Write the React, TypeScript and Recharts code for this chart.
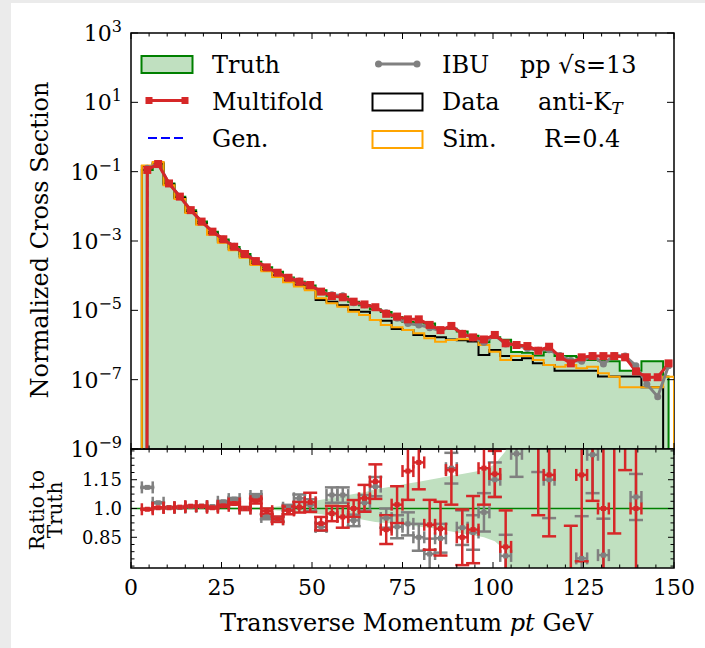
import React from 'react';
import {
  ComposedChart, Line, Area, Scatter, XAxis, YAxis, ErrorBar,
  ReferenceLine, ReferenceArea, Legend,
} from 'recharts';

// ---------------- binning / ticks ----------------
const BIN_WIDTH = 3; // GeV
const N_BINS = 50;
const BIN_EDGES = Array.from({ length: N_BINS + 1 }, (_, i) => i * BIN_WIDTH);
const BIN_CENTERS = Array.from({ length: N_BINS }, (_, i) => i * BIN_WIDTH + BIN_WIDTH / 2);

const X_TICKS = [0, 5, 10, 15, 20, 25, 30, 35, 40, 45, 50, 55, 60, 65, 70, 75, 80, 85, 90, 95, 100,
  105, 110, 115, 120, 125, 130, 135, 140, 145, 150];
const X_LABELED = [0, 25, 50, 75, 100, 125, 150];
const LOG_TICKS = [1e3, 1e1, 1e-1, 1e-3, 1e-5, 1e-7, 1e-9];
const RATIO_TICKS = [0.7, 0.7375, 0.775, 0.8125, 0.85, 0.8875, 0.925, 0.9625, 1.0, 1.0375, 1.075,
  1.1125, 1.15, 1.1875, 1.225, 1.2625, 1.3];
const RATIO_MAJOR = [0.85, 1.0, 1.15];
const RATIO_MAJOR_TEXT = ['0.85', '1.0', '1.15'];

// ---------------- top panel values (log10 of normalized cross section, null = empty bin) ----------------
// Truth (filled histogram, mid steps)
const TRUTH_LOG = [null, -0.95, -0.78, -1.34, -1.72, -2.11, -2.44, -2.73, -2.955, -3.175,
  -3.375, -3.595, -3.755, -3.89, -4.055, -4.177, -4.284, -4.42, -4.58, -4.605,
  -4.75, -4.85, -4.97, -5.05, -5.19, -5.34, -5.35, -5.38, -5.52, -5.53,
  -5.61, -5.73, -5.92, -5.78, -5.85, -6.2, -6.22, -6.3, -6.2, -6.32,
  -6.32, -6.35, -6.43, -6.45, -6.47, -6.74, -6.74, -6.47, -6.47, -6.91];
// Multifold (line with square markers at bin centres)
const MULTIFOLD_LOG = [null, -0.95, -0.78, -1.34, -1.72, -2.11, -2.44, -2.73, -2.95, -3.165,
  -3.375, -3.58, -3.76, -3.915, -4.06, -4.174, -4.27, -4.46, -4.59, -4.625,
  -4.75, -4.83, -4.91, -5.10, -5.18, -5.26, -5.26, -5.42, -5.57, -5.45,
  -5.68, -5.78, -5.84, -5.71, -5.95, -6.00, -6.03, -6.165, -6.05, -6.34,
  -6.53, -6.355, -6.32, -6.32, -6.32, -6.355, -6.76, -6.93, -6.93, -6.53];
// Gen. (blue dashed, lies under Multifold)
const GEN_LOG = [null, -0.95, -0.78, -1.34, -1.72, -2.11, -2.44, -2.73, -2.95, -3.165,
  -3.375, -3.58, -3.76, -3.915, -4.06, -4.174, -4.27, -4.46, -4.59, -4.625,
  -4.75, -4.83, -4.91, -5.10, -5.18, -5.26, -5.26, -5.42, -5.57, -5.45,
  -5.68, -5.78, -5.84, -5.71, -5.95, -6.00, -6.03, -6.165, -6.05, -6.34,
  -6.53, -6.355, -6.32, -6.32, -6.32, -6.355, -6.76, -6.93, -6.93, -6.53];
// IBU (grey line with round markers)
const IBU_LOG = [null, -0.905, -0.767, -1.338, -1.718, -2.106, -2.435, -2.726, -2.94, -3.154,
  -3.375, -3.568, -3.775, -3.915, -4.053, -4.155, -4.276, -4.46, -4.55, -4.58,
  -4.78, -4.84, -4.92, -5.07, -5.23, -5.38, -5.42, -5.50, -5.59, -5.45,
  -5.66, -5.79, -5.93, -5.72, -5.97, -6.0, -6.1, -6.15, -6.14, -6.3,
  -6.45, -6.47, -6.3, -6.55, -6.3, -6.32, -6.6, -7.13, -7.49, -6.6];
// Data (black step histogram over bin edges)
const DATA_LOG = [null, -0.84, -0.74, -1.37, -1.76, -2.16, -2.50, -2.79, -3.02, -3.24,
  -3.45, -3.66, -3.84, -3.99, -4.14, -4.26, -4.37, -4.70, -4.75, -4.85,
  -4.99, -5.04, -5.28, -5.30, -5.54, -5.57, -5.71, -5.74, -5.78, -5.84,
  -5.86, -5.90, -6.29, -6.145, -6.32, -6.43, -6.385, -6.53, -6.58, -6.74,
  -6.74, -6.74, -6.74, -6.91, -6.91, -6.91, -6.91, -7.22, -7.22, null];
// Sim. (orange step histogram over bin edges)
const SIM_LOG = [null, -0.82, -0.72, -1.39, -1.79, -2.19, -2.53, -2.82, -3.05, -3.27,
  -3.48, -3.69, -3.87, -4.04, -4.19, -4.31, -4.42, -4.654, -4.798, -4.895,
  -5.039, -5.135, -5.279, -5.423, -5.491, -5.568, -5.664, -5.808, -5.904, -5.856,
  -5.837, -5.837, -6.0, -6.193, -6.433, -6.318, -6.318, -6.433, -6.577, -6.625,
  -6.577, -6.673, -6.625, -6.818, -6.914, -7.222, -7.222, -7.222, -7.222, -6.914];

// ---------------- ratio panel values ----------------
const RED_RATIO = [null, 0.996, 1.004, 1.004, 1.007, 1.012, 1.012, 1.004, 1.014, 1.026,
  1.0, 1.038, 0.986, 0.944, 0.99, 1.007, 1.032, 0.921, 0.974, 0.956,
  1.0, 1.053, 1.14, 0.89, 1.02, 1.195, 1.24, 0.915, 0.895, 1.2,
  0.85, 0.89, 1.21, 1.18, 0.80, 1.6, 1.5, 1.35, 1.175, 0.5,
  0.62, 1.175, 1.45, 1.0, 1.35, 1.6, 1.0, 0.35, 0.35, 2.3];
const RED_ERR = [null, 0.003, 0.003, 0.003, 0.003, 0.003, 0.003, 0.004, 0.005, 0.006,
  0.008, 0.012, 0.014, 0.014, 0.02, 0.028, 0.05, 0.035, 0.04, 0.056,
  0.044, 0.07, 0.09, 0.075, 0.096, 0.15, 0.14, 0.13, 0.14, 0.18,
  0.145, 0.175, 0.19, 0.12, 0.19, 0.2, 0.12, 0.385, 0.32, 0.15,
  0.29, 0.45, 0.41, 0.35, 0.48, 0.4, 0.35, 0.2, 0.2, 0.5];
const GRAY_RATIO = [null, 1.11, 1.03, 1.005, 1.005, 1.01, 1.012, 1.01, 1.035, 1.049,
  1.0, 1.065, 0.956, 0.944, 1.004, 1.053, 1.018, 0.904, 1.07, 1.07,
  0.938, 1.03, 1.114, 0.95, 0.905, 0.92, 0.85, 0.763, 0.845, 1.21,
  0.9, 0.875, 0.98, 1.15, 0.753, 1.285, 0.45, 1.4, 1.15, 1.6,
  0.4, 0.74, 1.28, 0.757, 1.6, 0.4, 1.06, 0.3, 0.2, 1.8];
const GRAY_ERR = [null, 0.003, 0.003, 0.003, 0.003, 0.003, 0.003, 0.004, 0.005, 0.006,
  0.007, 0.01, 0.012, 0.012, 0.015, 0.02, 0.03, 0.02, 0.04, 0.04,
  0.03, 0.04, 0.05, 0.05, 0.06, 0.06, 0.07, 0.08, 0.075, 0.08,
  0.09, 0.09, 0.1, 0.09, 0.11, 0.12, 0.1, 0.21, 0.2, 0.15,
  0.1, 0.22, 0.2, 0.19, 0.2, 0.15, 0.12, 0.1, 0.1, 0.2];
// Truth uncertainty band in the ratio panel
const BAND_HIGH = [null, 1.005, 1.005, 1.005, 1.005, 1.005, 1.005, 1.005, 1.005, 1.005,
  1.005, 1.005, 1.005, 1.01, 1.015, 1.025, 1.035, 1.045, 1.055, 1.065,
  1.075, 1.085, 1.10, 1.11, 1.12, 1.13, 1.14, 1.15, 1.16, 1.17,
  1.18, 1.19, 1.20, 1.23, 1.30, 2.0, 2.0, 2.0, 2.0, 2.0,
  2.0, 2.0, 2.0, 2.0, 2.0, 2.0, 2.0, 2.0, 2.0, 2.0];
const BAND_LOW = [null, 0.995, 0.995, 0.995, 0.995, 0.995, 0.995, 0.995, 0.995, 0.995,
  0.995, 0.995, 0.995, 0.99, 0.988, 0.98, 0.975, 0.97, 0.96, 0.955,
  0.95, 0.94, 0.93, 0.925, 0.92, 0.915, 0.905, 0.9, 0.89, 0.88,
  0.87, 0.86, 0.85, 0.83, 0.78, 0.0, 0.0, 0.0, 0.0, 0.0,
  0.0, 0.0, 0.0, 0.0, 0.0, 0.0, 0.0, 0.0, 0.0, 0.0];
const BAND_X_END = 150;

// ---------------- style / layout ----------------
const FONT = '"DejaVu Serif", serif';
const GREEN = '#008000';
const TRUTH_FILL = '#c0e0c0';
const RED = '#d62728';
const GRAY = '#808080';
const ORANGE = '#ffa500';
const BLUE = '#0000ff';

const W = 705;
const H = 648;
const PLOT_LEFT = 131;
const PLOT_RIGHT = 674;
const PLOT_W = PLOT_RIGHT - PLOT_LEFT;
const TOP_Y0 = 33;
const TOP_Y1 = 449;
const TOP_H = TOP_Y1 - TOP_Y0;
const TOP_CHART_H = 480;
const RATIO_Y1 = 568;
const RATIO_H = RATIO_Y1 - TOP_Y1;
const X_DOMAIN = [0, 150];
const RATIO_DOMAIN = [0.69, 1.31];

const EMPTY = 1e-300; // an empty bin on the log axis (far below the visible range)
const lin = (v) => (v == null ? EMPTY : Math.pow(10, v));

// truth drawn like matplotlib step='mid': from first to last bin centre, changing at bin edges
const truthPts = [
  { x: BIN_CENTERS[0], y: lin(TRUTH_LOG[0]) },
  ...BIN_EDGES.slice(1, N_BINS).map((x, k) => ({ x, y: lin(TRUTH_LOG[k + 1]) })),
  { x: BIN_CENTERS[N_BINS - 1], y: lin(TRUTH_LOG[N_BINS - 1]) },
  { x: BIN_CENTERS[N_BINS - 1], y: EMPTY },
];
const mfPts = BIN_CENTERS.map((x, i) => ({ x, y: lin(MULTIFOLD_LOG[i]) }));
const genPts = BIN_CENTERS.map((x, i) => ({ x, y: lin(GEN_LOG[i]) }));
const ibuPts = BIN_CENTERS.map((x, i) => ({ x, y: lin(IBU_LOG[i]) }));
const dataPts = BIN_EDGES.map((x, i) => ({ x, y: lin(i < N_BINS ? DATA_LOG[i] : null) }));
const simPts = BIN_EDGES.map((x, i) => ({ x, y: lin(i < N_BINS ? SIM_LOG[i] : null) }));

const ratioPts = (vals, errs) => BIN_CENTERS
  .map((x, i) => (vals[i] == null ? null : { x, y: vals[i], ex: BIN_WIDTH / 2, ey: errs[i] }))
  .filter(Boolean);
const redPts = ratioPts(RED_RATIO, RED_ERR);
const grayPts = ratioPts(GRAY_RATIO, GRAY_ERR);
const bandPts = BIN_CENTERS
  .map((x, i) => (BAND_HIGH[i] == null ? null : { x, band: [BAND_LOW[i], BAND_HIGH[i]] }))
  .filter(Boolean);
bandPts.push({ x: BAND_X_END, band: [BAND_LOW[N_BINS - 1], BAND_HIGH[N_BINS - 1]] });

// ---------------- tick renderers (inward ticks on all four sides) ----------------
const TopXTick = (props) => {
  const { x, y, payload } = props;
  const len = X_LABELED.includes(payload.value) ? 6 : 3.5;
  return (
    <g>
      <line x1={x} y1={y} x2={x} y2={y - len} stroke="#000" strokeWidth={1} />
      <line x1={x} y1={y - TOP_H} x2={x} y2={y - TOP_H + len} stroke="#000" strokeWidth={1} />
    </g>
  );
};

const RatioXTick = (props) => {
  const { x, y, payload } = props;
  const major = X_LABELED.includes(payload.value);
  const len = major ? 6 : 3.5;
  return (
    <g>
      <line x1={x} y1={y} x2={x} y2={y - len} stroke="#000" strokeWidth={1} />
      <line x1={x} y1={y - RATIO_H} x2={x} y2={y - RATIO_H + len} stroke="#000" strokeWidth={1} />
      {major && (
        <text x={x} y={y + 27} textAnchor="middle" fontFamily={FONT} fontSize={22} fill="#000">
          {payload.value}
        </text>
      )}
    </g>
  );
};

const LogYTick = (props) => {
  const { x, y, payload } = props;
  const exp = Math.round(Math.log10(payload.value));
  const expText = exp < 0 ? '\u2212' + Math.abs(exp) : String(exp);
  return (
    <g>
      <line x1={x} y1={y} x2={x + 7} y2={y} stroke="#000" strokeWidth={1} />
      <line x1={x + PLOT_W} y1={y} x2={x + PLOT_W - 7} y2={y} stroke="#000" strokeWidth={1} />
      <text x={x - 9} y={y + 8} textAnchor="end" fontFamily={FONT} fontSize={22} fill="#000">
        10<tspan dy={-9} fontSize={16}>{expText}</tspan>
      </text>
    </g>
  );
};

const RatioYTick = (props) => {
  const { x, y, payload } = props;
  const idx = RATIO_MAJOR.findIndex((v) => Math.abs(v - payload.value) < 1e-6);
  const len = idx >= 0 ? 6 : 3.5;
  return (
    <g>
      <line x1={x} y1={y} x2={x + len} y2={y} stroke="#000" strokeWidth={1} />
      <line x1={x + PLOT_W} y1={y} x2={x + PLOT_W - len} y2={y} stroke="#000" strokeWidth={1} />
      {idx >= 0 && (
        <text x={x - 9} y={y + 6.5} textAnchor="end" fontFamily={FONT} fontSize={18} fill="#000">
          {RATIO_MAJOR_TEXT[idx]}
        </text>
      )}
    </g>
  );
};

// ---------------- markers ----------------
const squareDot = (color, size) => (p) => {
  const { cx, cy, index } = p;
  if (cx == null || cy == null || !isFinite(cx) || !isFinite(cy)) return <g key={'s' + index} />;
  return <rect key={'s' + index} x={cx - size / 2} y={cy - size / 2} width={size} height={size} fill={color} />;
};
const circleDot = (color, r) => (p) => {
  const { cx, cy, index } = p;
  if (cx == null || cy == null || !isFinite(cx) || !isFinite(cy)) return <g key={'c' + index} />;
  return <circle key={'c' + index} cx={cx} cy={cy} r={r} fill={color} />;
};
const ratioShape = (color) => (p) => {
  const { cx, cy } = p;
  if (cx == null || cy == null) return <g />;
  return <rect x={cx - 2.5} y={cy - 2.5} width={5} height={5} fill={color} />;
};

// ---------------- legend ----------------
const txt = { fontFamily: FONT, fontSize: 24, fill: '#000' };
const renderLegend = () => (
  <svg width={W} height={170} style={{ display: 'block', overflow: 'visible' }}>
    <rect x={141.5} y={56} width={51} height={17} fill={TRUTH_FILL} stroke={GREEN} strokeWidth={2} />
    <text x={212} y={72.5} {...txt}>Truth</text>

    <line x1={146} y1={100.5} x2={188} y2={100.5} stroke={RED} strokeWidth={3} />
    <rect x={145.5} y={97} width={7} height={7} fill={RED} />
    <rect x={181.5} y={97} width={7} height={7} fill={RED} />
    <text x={212} y={109.5} {...txt}>Multifold</text>

    <line x1={148} y1={138} x2={185} y2={138} stroke={BLUE} strokeWidth={2} strokeDasharray="9 4" />
    <text x={212} y={146.5} {...txt}>Gen.</text>

    <line x1={378.5} y1={64} x2={417} y2={64} stroke={GRAY} strokeWidth={3} />
    <circle cx={378.5} cy={64} r={3.5} fill={GRAY} />
    <circle cx={417} cy={64} r={3.5} fill={GRAY} />
    <text x={442} y={72.5} {...txt}>IBU</text>

    <rect x={372.5} y={93.5} width={50} height={17} fill="none" stroke="#000" strokeWidth={2} />
    <text x={442} y={109.5} {...txt}>Data</text>

    <rect x={372.5} y={131} width={50} height={17} fill="none" stroke={ORANGE} strokeWidth={2} />
    <text x={442} y={146.5} {...txt}>Sim.</text>

    <text x={520} y={72.5} {...txt}>pp √s=13</text>
    <text x={538} y={109.5} {...txt}>anti-K<tspan dy={4} fontSize={17} fontStyle="italic">T</tspan></text>
    <text x={544} y={146.5} {...txt}>R=0.4</text>
  </svg>
);

// ---------------- axis titles ----------------
const topYLabel = () => (
  <text x={48} y={240} transform="rotate(-90, 48, 240)" textAnchor="middle" fontFamily={FONT} fontSize={24} fill="#000">
    Normalized Cross Section
  </text>
);
const ratioYLabel = () => (
  <g>
    <text x={44} y={510} transform="rotate(-90, 44, 510)" textAnchor="middle" fontFamily={FONT} fontSize={20} fill="#000">Ratio to</text>
    <text x={62} y={510} transform="rotate(-90, 62, 510)" textAnchor="middle" fontFamily={FONT} fontSize={20} fill="#000">Truth</text>
  </g>
);
const xTitle = () => (
  <text x={(PLOT_LEFT + PLOT_RIGHT) / 2 + 4} y={631} textAnchor="middle" fontFamily={FONT} fontSize={24} fill="#000">
    Transverse Momentum <tspan fontStyle="italic">pt</tspan> GeV
  </text>
);

export default function App() {
  return (
    <div style={{ position: 'absolute', left: 0, top: 0, width: W, height: H, background: '#ebebeb', overflow: 'hidden' }}>
      <div style={{ position: 'absolute', left: 11, top: 3, right: 0, bottom: 0, background: '#ffffff' }} />

      {/* main (log) panel */}
      <div style={{ position: 'absolute', left: 0, top: 0 }}>
        <ComposedChart width={W} height={TOP_CHART_H} margin={{ top: TOP_Y0, right: W - PLOT_RIGHT, bottom: 0, left: 0 }}>
          <XAxis
            type="number" dataKey="x" domain={X_DOMAIN} ticks={X_TICKS} interval={0}
            allowDataOverflow height={TOP_CHART_H - TOP_Y1} axisLine={false} tickLine={false} tickSize={0} tickMargin={0}
            tick={(p) => <TopXTick {...p} />}
          />
          <YAxis
            type="number" scale="log" domain={[1e-9, 1e3]} ticks={LOG_TICKS} interval={0}
            allowDataOverflow width={PLOT_LEFT} axisLine={false} tickLine={false} tickSize={0} tickMargin={0}
            tick={(p) => <LogYTick {...p} />} label={topYLabel}
          />
          <Area data={truthPts} dataKey="y" type="stepAfter" baseValue={1e-9}
            fill={TRUTH_FILL} fillOpacity={1} stroke={GREEN} strokeWidth={2} isAnimationActive={false} />
          <Line data={dataPts} dataKey="y" type="stepAfter" stroke="#000" strokeWidth={2} dot={false} isAnimationActive={false} />
          <Line data={simPts} dataKey="y" type="stepAfter" stroke={ORANGE} strokeWidth={2} dot={false} isAnimationActive={false} />
          <Line data={ibuPts} dataKey="y" type="linear" stroke={GRAY} strokeWidth={3} dot={circleDot(GRAY, 3.5)} isAnimationActive={false} />
          <Line data={genPts} dataKey="y" type="linear" stroke={BLUE} strokeWidth={2} strokeDasharray="6 4" dot={false} isAnimationActive={false} />
          <Line data={mfPts} dataKey="y" type="linear" stroke={RED} strokeWidth={3} dot={squareDot(RED, 8)} isAnimationActive={false} />
          <ReferenceArea x1={0} x2={150} y1={1e-9} y2={1e3} fill="none" stroke="#000" strokeWidth={1.5} ifOverflow="visible" />
          <Legend layout="vertical" align="center" verticalAlign="middle" content={renderLegend}
            wrapperStyle={{ position: 'absolute', left: 0, top: 0, width: W, height: 170, margin: 0 }} />
        </ComposedChart>
      </div>

      {/* ratio panel data, clipped to the panel */}
      <div style={{ position: 'absolute', left: PLOT_LEFT, top: TOP_Y1, width: PLOT_W, height: RATIO_H, overflow: 'hidden' }}>
        <ComposedChart width={PLOT_W} height={RATIO_H} margin={{ top: 0, right: 0, bottom: 0, left: 0 }}>
          <XAxis hide type="number" dataKey="x" domain={X_DOMAIN} allowDataOverflow />
          <YAxis hide type="number" domain={RATIO_DOMAIN} allowDataOverflow />
          <Area data={bandPts} dataKey="band" type="linear" fill={TRUTH_FILL} fillOpacity={1} stroke="none" isAnimationActive={false} />
          <ReferenceLine y={1} stroke={GREEN} strokeWidth={1.5} />
          <Scatter data={grayPts} dataKey="y" fill={GRAY} shape={ratioShape(GRAY)} isAnimationActive={false}>
            <ErrorBar dataKey="ex" direction="x" width={6} stroke={GRAY} strokeWidth={2.5} isAnimationActive={false} />
            <ErrorBar dataKey="ey" direction="y" width={7} stroke={GRAY} strokeWidth={2.5} isAnimationActive={false} />
          </Scatter>
          <Scatter data={redPts} dataKey="y" fill={RED} shape={ratioShape(RED)} isAnimationActive={false}>
            <ErrorBar dataKey="ex" direction="x" width={6} stroke={RED} strokeWidth={2.5} isAnimationActive={false} />
            <ErrorBar dataKey="ey" direction="y" width={7} stroke={RED} strokeWidth={2.5} isAnimationActive={false} />
          </Scatter>
        </ComposedChart>
      </div>

      {/* ratio panel axes and frame */}
      <div style={{ position: 'absolute', left: 0, top: 0 }}>
        <ComposedChart width={W} height={H} margin={{ top: TOP_Y1, right: W - PLOT_RIGHT, bottom: 0, left: 0 }}>
          <XAxis
            type="number" dataKey="x" domain={X_DOMAIN} ticks={X_TICKS} interval={0}
            allowDataOverflow height={H - RATIO_Y1} axisLine={false} tickLine={false} tickSize={0} tickMargin={0}
            tick={(p) => <RatioXTick {...p} />} label={xTitle}
          />
          <YAxis
            type="number" domain={RATIO_DOMAIN} ticks={RATIO_TICKS} interval={0}
            allowDataOverflow width={PLOT_LEFT} axisLine={false} tickLine={false} tickSize={0} tickMargin={0}
            tick={(p) => <RatioYTick {...p} />} label={ratioYLabel}
          />
          <ReferenceArea x1={0} x2={150} y1={RATIO_DOMAIN[0]} y2={RATIO_DOMAIN[1]} fill="none" stroke="#000" strokeWidth={1.5} ifOverflow="visible" />
        </ComposedChart>
      </div>
    </div>
  );
}
